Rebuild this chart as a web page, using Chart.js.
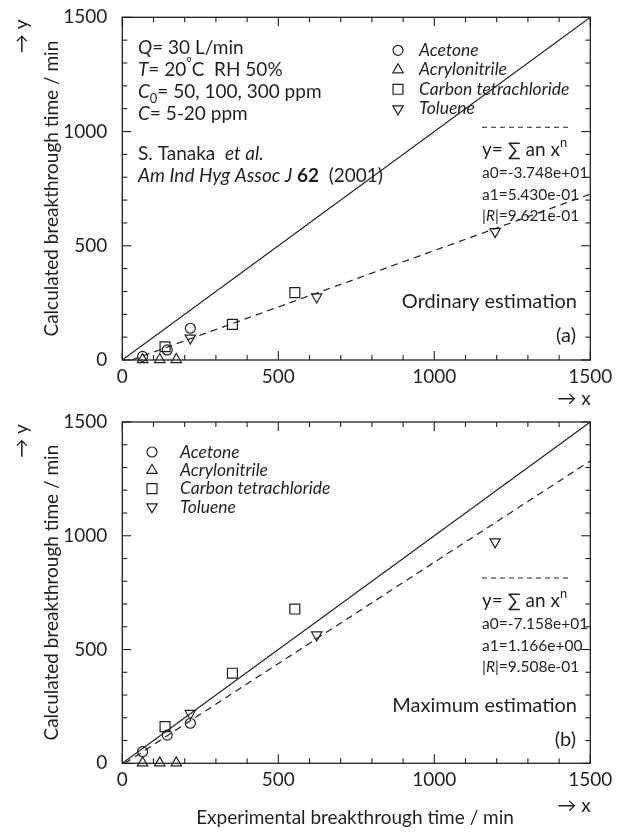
<!DOCTYPE html>
<html>
<head>
<meta charset="utf-8">
<script src="https://cdn.jsdelivr.net/npm/chart.js@4.4.0/dist/chart.umd.min.js"></script>
<style>
  body { margin: 0; background: #fff; }
  #wrap { position: relative; width: 623px; height: 832px; }
  canvas { position: absolute; left: 0; top: 0; }
</style>
</head>
<body>
<div id="wrap">
  <canvas id="chartA" width="623" height="832"></canvas>
  <canvas id="chartB" width="623" height="832"></canvas>
</div>
<script>
// experimental breakthrough times (x axis), shared by both panels
const expAcetone = [65, 144, 218];
const expAcrylonitrile = [65, 120, 173];
const expCarbonTet = [137, 353, 553];
const expToluene = [218, 623, 1195];

// (a) ordinary estimation
const ordAcetone = [16, 44, 139];
const ordAcrylonitrile = [2, 2, 2];
const ordCarbonTet = [58, 156, 295];
const ordToluene = [96, 276, 562];
const ordFitX = [30, 1500];
const ordFitY = [0, 726];

// (b) maximum estimation
const maxAcetone = [51, 124, 176];
const maxAcrylonitrile = [2, 2, 2];
const maxCarbonTet = [161, 396, 678];
const maxToluene = [219, 564, 973];
const maxFitX = [8, 1500];
const maxFitY = [0, 1329];

const diagonal = [0, 1500];
const axisTicks = [0, 500, 1000, 1500];
const compounds = ['Acetone', 'Acrylonitrile', 'Carbon tetrachloride', 'Toluene'];
const markers = [
  { pointStyle: 'circle', radius: 5, rotation: 0 },
  { pointStyle: 'triangle', radius: 6, rotation: 0 },
  { pointStyle: 'rect', radius: 7, rotation: 0 },
  { pointStyle: 'triangle', radius: 6, rotation: 180 },
];

const FONT = 'Lato, "Open Sans", sans-serif';
const ink = '#231f20';

function pts(xs, ys) {
  return xs.map((x, i) => ({ x: x, y: ys[i] }));
}

function markerSet(label, xs, ys, m) {
  return {
    label: label,
    data: pts(xs, ys),
    pointStyle: m.pointStyle,
    pointRadius: m.radius,
    rotation: m.rotation,
    pointBorderWidth: 1.2,
    borderColor: ink,
    backgroundColor: 'rgba(0,0,0,0)',
    clip: false,
  };
}

function lineSet(xs, ys, dash) {
  return {
    data: pts(xs, ys),
    showLine: true,
    pointRadius: 0,
    borderColor: ink,
    borderWidth: 1.2,
    borderDash: dash,
  };
}

function richText(ctx, x, y, parts, size) {
  let cx = x;
  parts.forEach(p => {
    const s = p.sub || p.sup ? size * 0.68 : size;
    ctx.font = (p.i ? 'italic ' : '') + (p.b ? 'bold ' : '') + s + 'px ' + FONT;
    const dy = p.sub ? size * 0.32 : p.sup ? -size * 0.38 : 0;
    ctx.fillText(p.t, cx, y + dy);
    cx += ctx.measureText(p.t).width;
  });
}

function line(ctx, x1, y1, x2, y2) {
  ctx.beginPath();
  ctx.moveTo(x1, y1);
  ctx.lineTo(x2, y2);
  ctx.stroke();
}

const decor = {
  id: 'decor',
  afterDraw(chart) {
    const p = chart.options.plugins.decor;
    const { ctx, chartArea: a, scales: { x, y } } = chart;
    ctx.save();
    ctx.strokeStyle = ink;
    ctx.fillStyle = ink;
    ctx.lineWidth = 1.3;
    ctx.strokeRect(a.left, a.top, a.right - a.left, a.bottom - a.top);
    // inward ticks on all four sides
    ctx.lineWidth = 1.1;
    for (let v = 0; v <= 1500; v += 100) {
      const len = v % 500 === 0 ? 9 : 5;
      const px = x.getPixelForValue(v), py = y.getPixelForValue(v);
      line(ctx, px, a.bottom, px, a.bottom - len);
      line(ctx, px, a.top, px, a.top + len);
      line(ctx, a.left, py, a.left + len, py);
      line(ctx, a.right, py, a.right - len, py);
    }

    ctx.textBaseline = 'middle';
    // axis titles
    ctx.font = '19px ' + FONT;
    ctx.textAlign = 'center';
    ctx.save();
    ctx.translate(52, (a.top + a.bottom) / 2);
    ctx.rotate(-Math.PI / 2);
    ctx.fillText('Calculated breakthrough time / min', 0, 0);
    ctx.restore();
    ctx.save();
    ctx.translate(22, a.top + 19);
    ctx.rotate(-Math.PI / 2);
    ctx.fillText('\u2192 y', 0, 0);
    ctx.restore();
    ctx.fillText('\u2192 x', 574, a.bottom + p.arrowX);
    if (p.xTitle) ctx.fillText(p.xTitle, 355, a.bottom + 55);

    // legend
    ctx.textAlign = 'left';
    compounds.forEach((name, i) => {
      const ly = a.top + p.legend.y + i * p.legend.dy;
      ctx.fillStyle = '#fff';
      ctx.lineWidth = 1.2;
      Chart.helpers.drawPoint(ctx, {
        pointStyle: markers[i].pointStyle,
        rotation: markers[i].rotation,
        radius: markers[i].radius,
        borderWidth: 1.2,
      }, p.legend.x, ly);
      ctx.fillStyle = ink;
      ctx.font = 'italic 17.5px ' + FONT;
      ctx.fillText(name, p.legend.tx, ly);
    });

    // notes block
    (p.notes || []).forEach(n => richText(ctx, n.x, a.top + n.y, n.parts, 19));

    // fit equation box
    const e = p.eq;
    ctx.setLineDash([5, 4]);
    ctx.lineWidth = 1.1;
    line(ctx, 482, a.top + e.y, 569, a.top + e.y);
    ctx.setLineDash([]);
    richText(ctx, 482, a.top + e.y + 23, [{ t: 'y= \u2211 an x' }, { t: 'n', sup: 1 }], 19);
    richText(ctx, 482, a.top + e.y + 46, [{ t: e.a0 }], 15.5);
    richText(ctx, 482, a.top + e.y + 68, [{ t: e.a1 }], 15.5);
    richText(ctx, 482, a.top + e.y + 89, [{ t: '|' }, { t: 'R', i: 1 }, { t: '|=' + e.r }], 15.5);

    ctx.font = '20px ' + FONT;
    ctx.textAlign = 'right';
    ctx.fillText(p.method, 577, a.top + p.methodY);
    ctx.fillText(p.tag, 576, a.top + p.methodY + 34);
    ctx.restore();
  },
};

function makeChart(id, sets, padTop, axisBottom, deco) {
  const tickFont = { family: FONT, size: 19 };
  const plain = v => String(v);
  return new Chart(document.getElementById(id), {
    type: 'scatter',
    data: { datasets: sets },
    options: {
      responsive: false,
      animation: false,
      devicePixelRatio: 1,
      layout: { padding: { top: padTop, right: 32.7, left: 0, bottom: 0 } },
      plugins: { legend: { display: false }, tooltip: { enabled: false }, decor: deco },
      scales: {
        x: {
          min: 0, max: 1500,
          afterBuildTicks: s => { s.ticks = axisTicks.map(v => ({ value: v })); },
          afterFit: s => {
            s.height = 832 - axisBottom;
            s.paddingLeft = 0; s.paddingRight = 0;
          },
          grid: { display: false },
          border: { display: false },
          ticks: { font: tickFont, color: ink, padding: -3, maxRotation: 0, autoSkip: false, callback: plain },
        },
        y: {
          min: 0, max: 1500,
          afterBuildTicks: s => { s.ticks = axisTicks.map(v => ({ value: v })); },
          afterFit: s => {
            s.width = 122.3;
            s.paddingTop = 0; s.paddingBottom = 0;
          },
          grid: { display: false },
          border: { display: false },
          ticks: { font: tickFont, color: ink, padding: 7, callback: plain },
        },
      },
    },
    plugins: [decor],
  });
}

function datasets(yAcetone, yAcryl, yCarbon, yToluene, fitX, fitY) {
  return [
    lineSet(diagonal, diagonal, []),
    lineSet(fitX, fitY, [7, 5]),
    markerSet(compounds[0], expAcetone, yAcetone, markers[0]),
    markerSet(compounds[1], expAcrylonitrile, yAcryl, markers[1]),
    markerSet(compounds[2], expCarbonTet, yCarbon, markers[2]),
    markerSet(compounds[3], expToluene, yToluene, markers[3]),
  ];
}

makeChart('chartA',
  datasets(ordAcetone, ordAcrylonitrile, ordCarbonTet, ordToluene, ordFitX, ordFitY),
  17.3, 360, {
    arrowX: 39,
    legend: { x: 398, tx: 419, y: 33, dy: 19.5 },
    notes: [
      { x: 138, y: 31, parts: [{ t: 'Q', i: 1 }, { t: '= 30 L/min' }] },
      { x: 138, y: 53, parts: [{ t: 'T', i: 1 }, { t: '= 20' }, { t: '\u00b0', sup: 1 }, { t: 'C  RH 50%' }] },
      { x: 138, y: 75, parts: [{ t: 'C', i: 1 }, { t: '0', sub: 1 }, { t: '= 50, 100, 300 ppm' }] },
      { x: 138, y: 97, parts: [{ t: 'C', i: 1 }, { t: '= 5-20 ppm' }] },
      { x: 138, y: 137, parts: [{ t: 'S. Tanaka  ' }, { t: 'et al.', i: 1 }] },
      { x: 138, y: 159, parts: [{ t: 'Am Ind Hyg Assoc J ', i: 1 }, { t: '62', b: 1 }, { t: '  (2001)' }] },
    ],
    eq: { y: 110, a0: 'a0=-3.748e+01', a1: 'a1=5.430e-01', r: '9.621e-01' },
    method: 'Ordinary estimation',
    methodY: 284,
    tag: '(a)',
  });

makeChart('chartB',
  datasets(maxAcetone, maxAcrylonitrile, maxCarbonTet, maxToluene, maxFitX, maxFitY),
  422, 763.3, {
    arrowX: 43,
    xTitle: 'Experimental breakthrough time / min',
    legend: { x: 152, tx: 180, y: 30, dy: 18.3 },
    eq: { y: 156, a0: 'a0=-7.158e+01', a1: 'a1=1.166e+00', r: '9.508e-01' },
    method: 'Maximum estimation',
    methodY: 284,
    tag: '(b)',
  });
</script>
</body>
</html>
